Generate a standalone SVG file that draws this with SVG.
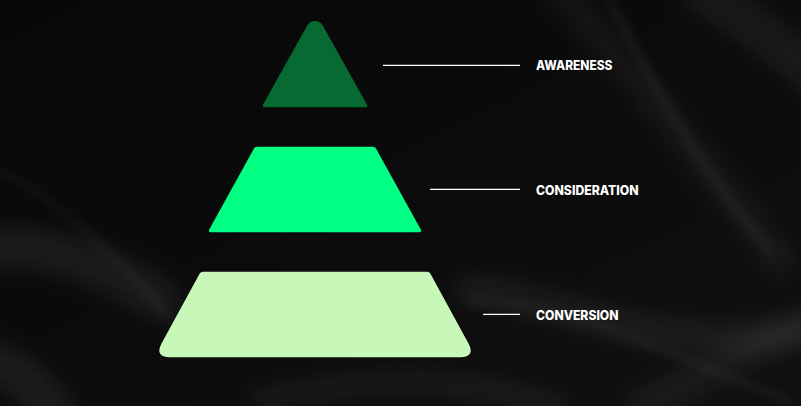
<svg xmlns="http://www.w3.org/2000/svg" width="801" height="406" viewBox="0 0 801 406">
<defs>
<style>
.lbl{font-family:"Inter","Liberation Sans",Arial,sans-serif;font-weight:800;font-size:12.8px;fill:#ffffff}
.ln{stroke:#ffffff;stroke-width:1.3;fill:none}
.fold{fill:none;stroke:#ffffff;stroke-linecap:round}
</style>
<filter id="blur" x="-50%" y="-50%" width="200%" height="200%"><feGaussianBlur stdDeviation="10"/></filter>
<filter id="blur2" x="-50%" y="-50%" width="200%" height="200%"><feGaussianBlur stdDeviation="4"/></filter>
<linearGradient id="bg" x1="0" y1="0" x2="1" y2="1">
<stop offset="0" stop-color="#080808"/>
<stop offset="0.5" stop-color="#0b0b0b"/>
<stop offset="1" stop-color="#101010"/>
</linearGradient>
</defs>
<g id="background">
<rect x="0" y="0" width="801" height="406" fill="url(#bg)"/>
<g filter="url(#blur)">
<path class="fold" d="M 700,-10 C 760,30 800,60 820,80" stroke-width="40" stroke-opacity="0.06"/>
<path class="fold" d="M 560,-10 C 640,80 700,160 780,260" stroke-width="30" stroke-opacity="0.045"/>
<path class="fold" d="M -20,250 C 40,240 100,260 160,300" stroke-width="40" stroke-opacity="0.07"/>
<path class="fold" d="M -10,360 C 20,370 40,390 60,420" stroke-width="40" stroke-opacity="0.07"/>
<path class="fold" d="M 470,290 C 560,300 680,360 800,330" stroke-width="30" stroke-opacity="0.06"/>
<path class="fold" d="M 260,400 C 360,380 460,370 560,410" stroke-width="20" stroke-opacity="0.06"/>
<path class="fold" d="M 640,406 C 700,380 760,340 820,320" stroke-width="30" stroke-opacity="0.05"/>
</g>
<g filter="url(#blur2)">
<path class="fold" d="M 610,0 C 650,80 700,170 770,250" stroke-width="4" stroke-opacity="0.09"/>
<path class="fold" d="M 470,300 C 600,310 700,370 790,400" stroke-width="4" stroke-opacity="0.08"/>
<path class="fold" d="M 0,170 C 60,200 120,260 180,330" stroke-width="4" stroke-opacity="0.06"/>
</g>
</g>
<g id="connectors">
<line class="ln" x1="383" y1="65.3" x2="520" y2="65.3"/>
<line class="ln" x1="430" y1="189.3" x2="520" y2="189.3"/>
<line class="ln" x1="483" y1="314.3" x2="520" y2="314.3"/>
</g>
<g id="awareness">
<path d="M 307.1,25.7 A 9 9 0 0 1 322.9,25.7 L 366.8,104.2 Q 368.5,107.3 365,107.3 L 265,107.3 Q 261.5,107.3 263.2,104.2 Z" fill="#066A32"/>
<text class="lbl" x="536" y="70" textLength="76.5" lengthAdjust="spacingAndGlyphs">AWARENESS</text>
</g>
<g id="consideration">
<path d="M 257,146.7 L 373,146.7 Q 375,146.7 376,148.5 L 420.5,229 Q 422.3,232.3 419,232.3 L 211,232.3 Q 207.7,232.3 209.5,229 L 254,148.5 Q 255,146.7 257,146.7 Z" fill="#00FF82"/>
<text class="lbl" x="536" y="195.3" textLength="102.5" lengthAdjust="spacingAndGlyphs">CONSIDERATION</text>
</g>
<g id="conversion">
<path d="M 203,271.7 L 427,271.7 Q 429.3,271.7 430.3,273.5 L 468.5,343.5 Q 476.1,357.3 458,357.3 L 172,357.3 Q 153.9,357.3 161.5,343.5 L 199.7,273.5 Q 200.7,271.7 203,271.7 Z" fill="#C8F8B9"/>
<text class="lbl" x="536" y="319.7" textLength="82.5" lengthAdjust="spacingAndGlyphs">CONVERSION</text>
</g>
</svg>
